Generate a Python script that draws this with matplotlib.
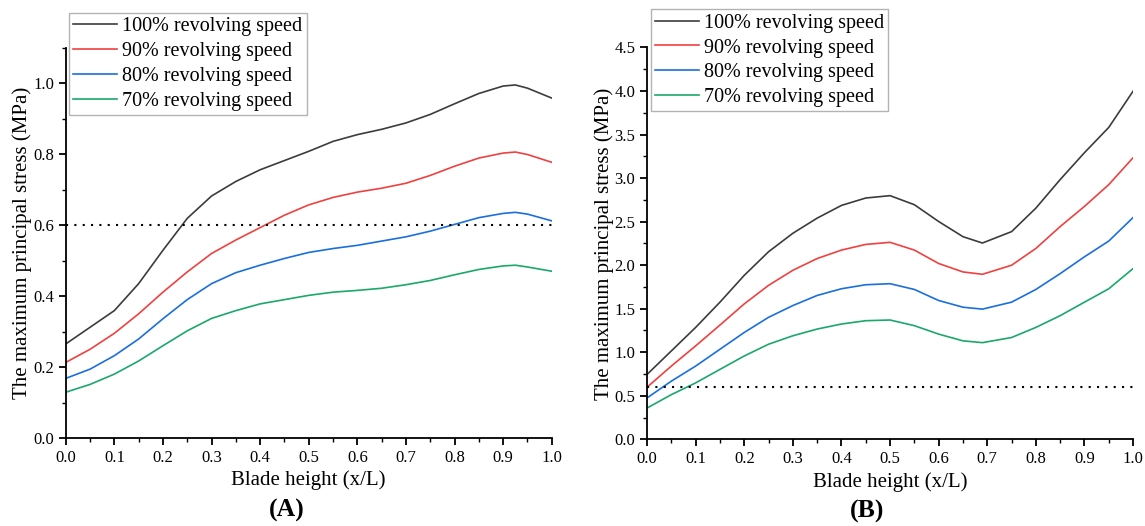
import numpy as np
import matplotlib
matplotlib.use("Agg")
import matplotlib.pyplot as plt
from matplotlib.ticker import MultipleLocator

plt.rcParams['font.family'] = ['Liberation Serif', 'DejaVu Serif']

# blade height positions (x/L)
x = [0.0, 0.05, 0.1, 0.15, 0.2, 0.25, 0.3, 0.35, 0.4, 0.45, 0.5,
     0.55, 0.6, 0.65, 0.7, 0.75, 0.8, 0.85, 0.9, 0.925, 0.95, 1.0]

# panel A
a_100 = [0.265, 0.312, 0.359, 0.435, 0.529, 0.619, 0.682, 0.723, 0.756, 0.782, 0.808,
         0.836, 0.855, 0.870, 0.888, 0.912, 0.942, 0.971, 0.992, 0.995, 0.986, 0.958]
a_90 = [0.213, 0.250, 0.295, 0.350, 0.411, 0.468, 0.520, 0.558, 0.593, 0.628, 0.657,
        0.678, 0.693, 0.704, 0.718, 0.740, 0.766, 0.789, 0.803, 0.806, 0.799, 0.777]
a_80 = [0.168, 0.194, 0.232, 0.279, 0.336, 0.390, 0.435, 0.466, 0.487, 0.506, 0.523,
        0.534, 0.543, 0.555, 0.567, 0.583, 0.602, 0.621, 0.633, 0.636, 0.631, 0.612]
a_70 = [0.129, 0.151, 0.180, 0.217, 0.260, 0.302, 0.337, 0.359, 0.378, 0.390, 0.402,
        0.411, 0.416, 0.422, 0.432, 0.444, 0.460, 0.475, 0.485, 0.487, 0.482, 0.470]

# panel B
xb = [0.0, 0.05, 0.1, 0.15, 0.2, 0.25, 0.3, 0.35, 0.4, 0.45, 0.5,
      0.55, 0.6, 0.65, 0.69, 0.75, 0.8, 0.85, 0.9, 0.95, 1.0]
b_100 = [0.745, 1.015, 1.285, 1.575, 1.883, 2.154, 2.366, 2.540, 2.686, 2.771, 2.798,
         2.694, 2.501, 2.327, 2.254, 2.385, 2.655, 2.983, 3.292, 3.582, 3.998]
b_90 = [0.598, 0.841, 1.073, 1.312, 1.555, 1.768, 1.941, 2.076, 2.173, 2.238, 2.262,
        2.173, 2.019, 1.922, 1.895, 1.999, 2.192, 2.443, 2.675, 2.925, 3.234]
b_80 = [0.475, 0.668, 0.841, 1.034, 1.227, 1.401, 1.536, 1.652, 1.729, 1.775, 1.787,
        1.721, 1.594, 1.517, 1.495, 1.575, 1.721, 1.903, 2.096, 2.277, 2.547]
b_70 = [0.359, 0.513, 0.648, 0.803, 0.957, 1.092, 1.189, 1.266, 1.324, 1.362, 1.370,
        1.305, 1.208, 1.131, 1.110, 1.169, 1.285, 1.420, 1.575, 1.729, 1.961]

labels = ['100% revolving speed', '90% revolving speed',
          '80% revolving speed', '70% revolving speed']
colors = ['#3c3c3c', '#f14040', '#1a6fdf', '#1aa86b']
limit = 0.6


def draw_panel(ax, xs, series, ymax, ystep, legend_pos, fig):
    for ys, lab, c in zip(series, labels, colors):
        ax.plot(xs, ys, color=c, lw=1.2, label=lab)
    ax.axhline(limit, color='black', lw=1.5, ls=(0, (1, 3)))
    ax.set_xlim(0, 1)
    ax.set_ylim(0, ymax)
    ax.xaxis.set_major_locator(MultipleLocator(0.1))
    ax.xaxis.set_minor_locator(MultipleLocator(0.05))
    ax.yaxis.set_major_locator(MultipleLocator(ystep))
    ax.yaxis.set_minor_locator(MultipleLocator(ystep / 2))
    ax.spines['top'].set_visible(False)
    ax.spines['right'].set_visible(False)
    for s in ['left', 'bottom']:
        ax.spines[s].set_linewidth(1.3)
    ax.tick_params(which='major', direction='out', length=5, width=1.3, labelsize=12)
    ax.tick_params(which='minor', direction='out', length=3, width=1.0)
    ax.xaxis.set_major_formatter(plt.FormatStrFormatter('%.1f'))
    ax.yaxis.set_major_formatter(plt.FormatStrFormatter('%.1f'))
    ax.set_xlabel('Blade height (x/L)', fontsize=15, labelpad=3.5)
    ax.set_ylabel('The maximum principal stress (MPa)', fontsize=15, labelpad=0.5)
    leg = ax.legend(loc='upper left', bbox_to_anchor=legend_pos,
                    bbox_transform=fig.transFigure, borderaxespad=0,
                    fontsize=14.5, frameon=True, fancybox=False,
                    handlelength=2.2, handletextpad=0.25, labelspacing=0.29,
                    borderpad=0.2)
    leg.get_frame().set_edgecolor('#a0a0a0')
    leg.get_frame().set_linewidth(1.0)


fig = plt.figure(figsize=(11.45, 5.26), dpi=100)
ax1 = fig.add_axes([0.0574, 0.1673, 0.4245, 0.742])
ax2 = fig.add_axes([0.5651, 0.1648, 0.4245, 0.745])

draw_panel(ax1, x, [a_100, a_90, a_80, a_70], 1.1, 0.2, (0.0603, 0.976), fig)
draw_panel(ax2, xb, [b_100, b_90, b_80, b_70], 4.5, 0.5, (0.5682, 0.982), fig)

fig.text(0.250, 0.030, '(A)', fontsize=18.5, fontweight='bold', ha='center', va='center')
fig.text(0.757, 0.027, '(B)', fontsize=18.5, fontweight='bold', ha='center', va='center')

fig.savefig('out.png', dpi=100)
